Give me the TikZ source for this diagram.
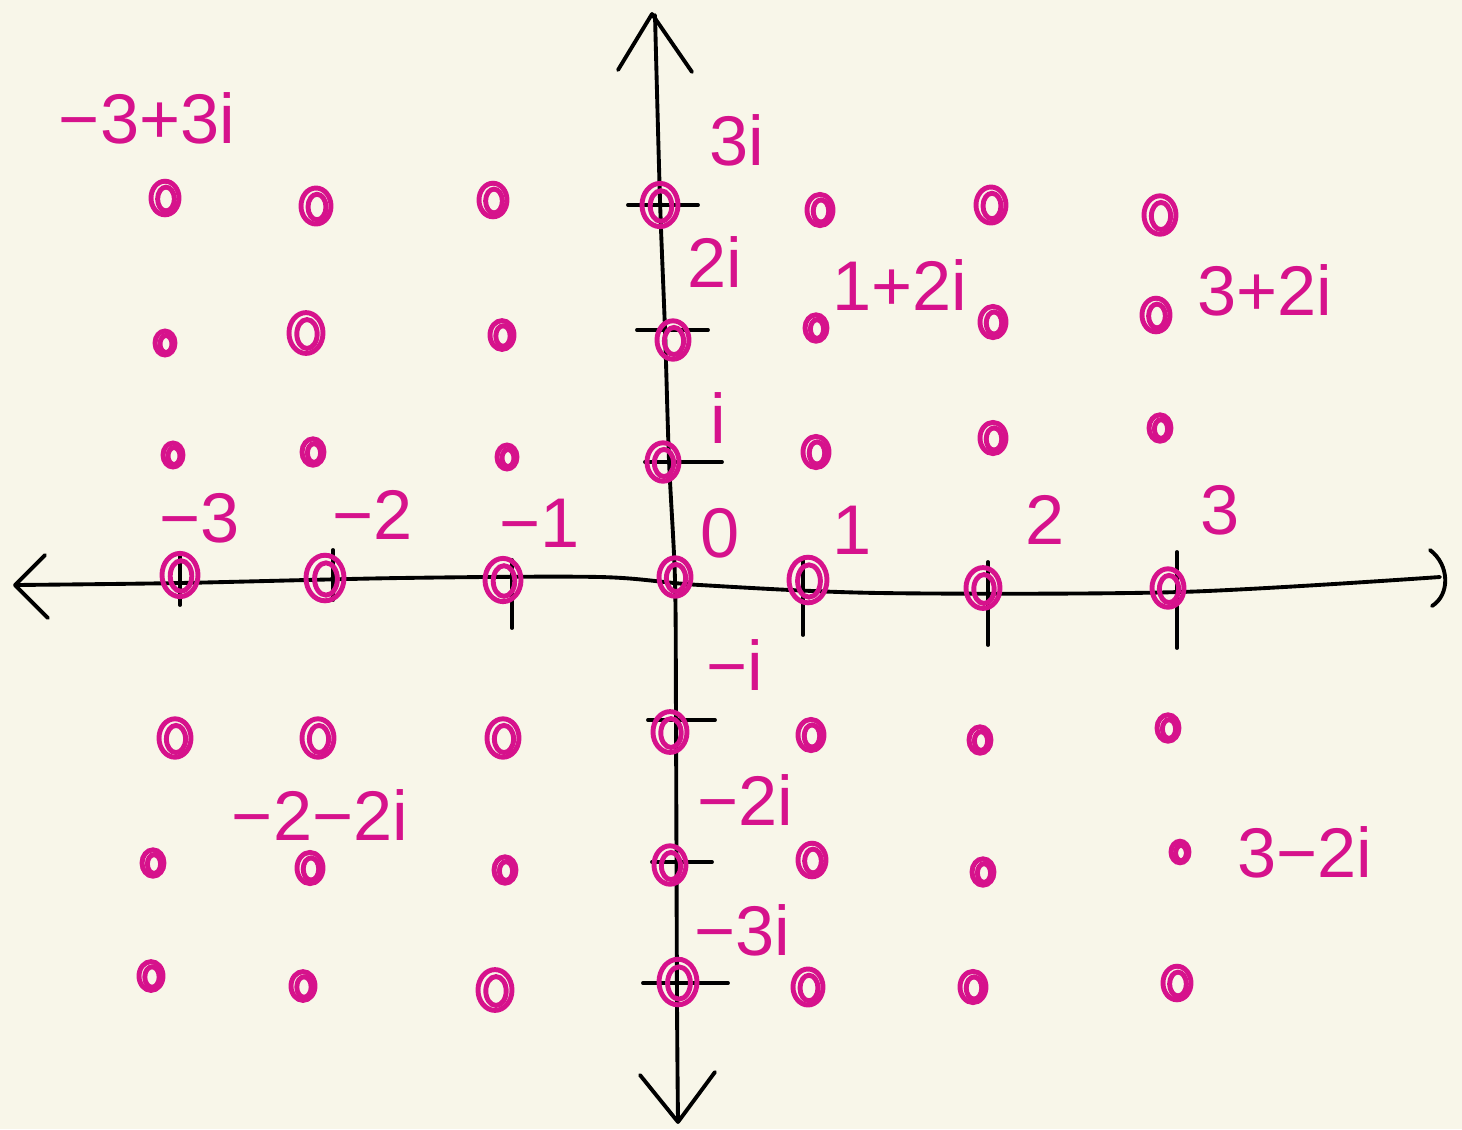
\documentclass[tikz,border=0pt]{standalone}
\usepackage{fontspec}
\setmainfont{Liberation Sans}
\definecolor{bg}{HTML}{F8F6E9}
\definecolor{mag}{HTML}{D6128C}
\begin{document}
\begin{tikzpicture}[x=0.01cm,y=-0.01cm,
  axis/.style={line width=1.1pt,line cap=round,line join=round},
  lbl/.style={text=mag,font=\fontsize{20}{24}\selectfont,inner sep=0pt},
  ring/.style={draw=mag,line width=1.4pt}]
\fill[bg] (0,0) rectangle (1462,1129);
\useasboundingbox (0,0) rectangle (1462,1129);
% axes
\draw[axis] plot[smooth] coordinates {(15,585) (180,583) (400,578) (600,577) (700,585) (880,593) (1180,592) (1440,577)};
\draw[axis] plot[smooth] coordinates {(655,15) (660,200) (665,330) (669,460) (675,580) (676,720) (677,1000) (678,1120)};
% arrowheads
\draw[axis] (45,555) -- (15,585) -- (48,618);
\draw[axis] (1430,550) .. controls (1450,565) and (1450,595) .. (1432,606);
\draw[axis] (618,70) -- (652,14) -- (692,72);
\draw[axis] (640,1075) -- (678,1122) -- (715,1072);
% ticks x
\foreach \x/\a/\b in {180/555/605, 333/550/600, 512/560/628, 803/560/635, 988/562/645, 1177/552/648}
  \draw[axis] (\x,\a) -- (\x,\b);
% ticks y
\foreach \y/\a/\b in {205/628/698, 330/637/708, 462/645/722, 720/648/715, 862/652/712, 983/643/728}
  \draw[axis] (\a,\y) -- (\b,\y);
% points
\foreach \x/\y/\r in {165/198/14, 316/206/15, 493/200/14, 660/205/18, 820/210/13, 991/205/15, 1160/215/16,
  165/343/10, 306/333/17, 502/335/12, 673/340/16, 816/328/11, 993/322/13, 1156/315/14,
  173/455/10, 313/452/11, 507/457/10, 663/462/16, 816/452/13, 993/438/13, 1160/428/11,
  180/575/18, 325/578/19, 503/580/18, 675/577/16, 808/580/19, 983/588/17, 1168/588/16,
  175/738/16, 318/738/16, 503/738/16, 670/732/17, 811/735/13, 980/740/11, 1168/728/11,
  153/863/11, 310/868/13, 505/870/11, 670/865/16, 812/860/14, 983/872/11, 1180/852/9,
  151/976/12, 303/986/12, 495/990/17, 678/982/19, 808/987/15, 973/987/13, 1177/983/14}
{
  \draw[ring] (\x,\y) ellipse ({\r} and {1.2*\r});
  \draw[ring] (\x+1,\y+1) ellipse ({0.6*\r} and {0.85*\r});
}
% axis labels
\node[lbl] (lm3) at (200,518) {−3};
\node[lbl] (lm2) at (373,515) {−2};
\node[lbl] (lm1) at (540,523) {−1};
\node[lbl] (l0) at (720,533) {0};
\node[lbl] (l1) at (852,530) {1};
\node[lbl] (l2) at (1045,520) {2};
\node[lbl] (l3) at (1220,510) {3};
\node[lbl] (l3i) at (737,140) {3i};
\node[lbl] (l2i) at (715,262) {2i};
\node[lbl] (li) at (718,418) {i};
\node[lbl] (lmi) at (735,665) {−i};
\node[lbl] (lm2i) at (745,800) {−2i};
\node[lbl] (lm3i) at (742,930) {−3i};
% point labels
\node[lbl] (a) at (147,118) {−3+3i};
\node[lbl] (b) at (900,285) {1+2i};
\node[lbl] (c) at (1265,290) {3+2i};
\node[lbl] (d) at (320,815) {−2−2i};
\node[lbl] (e) at (1305,852) {3−2i};
\end{tikzpicture}
\end{document}
